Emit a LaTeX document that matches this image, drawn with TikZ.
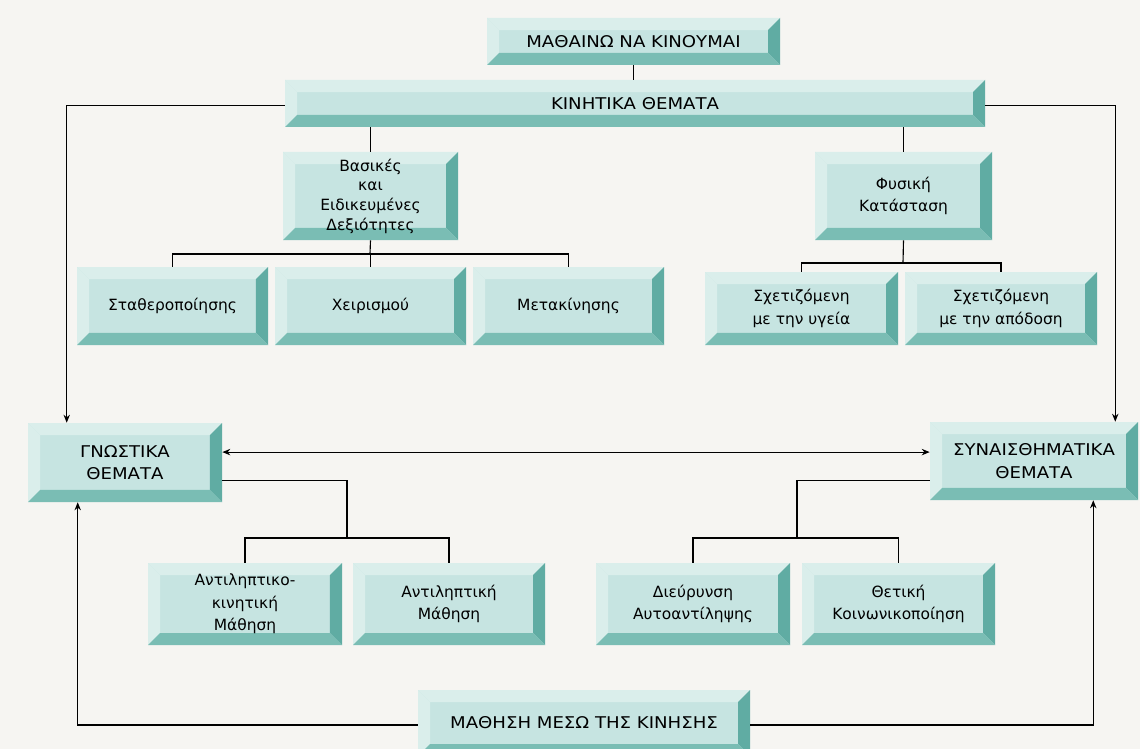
\documentclass[tikz,border=0pt]{standalone}
\usepackage{fontspec}
\setmainfont{DejaVu Sans}
\newfontfamily\capsfont{DejaVu Sans}[FakeStretch=1.12]
\usetikzlibrary{arrows.meta}
\usetikzlibrary{calc}
\definecolor{pagebg}{RGB}{246,245,242}
\definecolor{bevface}{RGB}{198,228,225}
\definecolor{bevlight}{RGB}{218,238,235}
\definecolor{bevright}{RGB}{96,172,163}
\definecolor{bevbottom}{RGB}{122,189,180}
\newcommand{\bevw}{3mm}
\newcommand{\bevelframe}{
    \coordinate (bnw) at (path picture bounding box.north west);
    \coordinate (bne) at (path picture bounding box.north east);
    \coordinate (bsw) at (path picture bounding box.south west);
    \coordinate (bse) at (path picture bounding box.south east);
    \fill[bevlight] (bnw) -- (bne) -- ([shift={(-\bevw,-\bevw)}]bne) -- ([shift={(\bevw,-\bevw)}]bnw) -- cycle;
    \fill[bevlight] (bnw) -- (bsw) -- ([shift={(\bevw,\bevw)}]bsw) -- ([shift={(\bevw,-\bevw)}]bnw) -- cycle;
    \fill[bevright] (bne) -- (bse) -- ([shift={(-\bevw,\bevw)}]bse) -- ([shift={(-\bevw,-\bevw)}]bne) -- cycle;
    \fill[bevbottom] (bsw) -- (bse) -- ([shift={(-\bevw,\bevw)}]bse) -- ([shift={(\bevw,\bevw)}]bsw) -- cycle;
}
% box from corner (#2,#3) to corner (#4,#5), named #6
\newcommand{\bevbox}[6]{\node[#1, minimum width={(#4-#2)*0.025cm}, minimum height={(#5-#3)*0.025cm}]
    (#6) at ({(#2+#4)/2}, {(#3+#5)/2})}
\newcommand{\drawarrow}{\draw[line width=0.8pt, -{Stealth[length=2mm, width=1.6mm]}]}
\tikzset{
    bevel/.style={rectangle, fill=bevface, inner sep=0pt, align=center,
        font=\fontsize{11}{16}\selectfont, path picture={\bevelframe}},
    tightbox/.style={bevel, font=\fontsize{11}{14}\selectfont},
    capsbox/.style={bevel, font=\capsfont\fontsize{11.5}{16}\selectfont},
    conn/.style={line width=0.8pt}
}

\begin{document}
\begin{tikzpicture}[x=0.025cm, y=-0.025cm]
    % Page
    \fill[pagebg] (0,0) rectangle (1140,749);
    \useasboundingbox (0,0) rectangle (1140,749);
    \clip (0,0) rectangle (1140,749);

    % Draw boxes
    \bevbox{capsbox}{487}{18}{780}{65}{learn} {ΜΑΘΑΙΝΩ ΝΑ ΚΙΝΟΥΜΑΙ};
    \bevbox{capsbox}{285}{80}{985}{127}{motor} {ΚΙΝΗΤΙΚΑ ΘΕΜΑΤΑ};

    \bevbox{tightbox}{283}{152}{458}{240}{skills} {Βασικές\\και\\Ειδικευμένες\\Δεξιότητες};
    \bevbox{bevel}{815}{152}{992}{240}{fitness} {Φυσική\\Κατάσταση};

    \bevbox{bevel}{77}{267}{268}{345}{stab} {Σταθεροποίησης};
    \bevbox{bevel}{275}{267}{466}{345}{manip} {Χειρισμού};
    \bevbox{bevel}{473}{267}{664}{345}{loco} {Μετακίνησης};
    \bevbox{bevel}{705}{272}{898}{345}{health} {Σχετιζόμενη\\με την υγεία};
    \bevbox{bevel}{905}{272}{1097}{345}{perf} {Σχετιζόμενη\\με την απόδοση};

    \bevbox{capsbox}{28}{423}{222}{502}{cogn} {ΓΝΩΣΤΙΚΑ\\ΘΕΜΑΤΑ};
    \bevbox{capsbox}{930}{422}{1138}{500}{affect} {ΣΥΝΑΙΣΘΗΜΑΤΙΚΑ\\ΘΕΜΑΤΑ};

    \bevbox{bevel}{148}{563}{342}{645}{permot} {Αντιληπτικο-\\κινητική\\Μάθηση};
    \bevbox{bevel}{353}{563}{545}{645}{percep} {Αντιληπτική\\Μάθηση};
    \bevbox{bevel}{596}{563}{790}{645}{selfc} {Διεύρυνση\\Αυτοαντίληψης};
    \bevbox{bevel}{802}{563}{995}{645}{social} {Θετική\\Κοινωνικοποίηση};

    \bevbox{capsbox}{418}{690}{750}{756}{move} {ΜΑΘΗΣΗ ΜΕΣΩ ΤΗΣ ΚΙΝΗΣΗΣ};

    % Draw tree lines
    \coordinate (skillbar) at (370,254);
    \coordinate (fitbar) at (903,263);
    \coordinate (cognbar) at (347,538);
    \coordinate (affbar) at (797,538);

    \draw[conn] (learn.south) -- (learn.south |- motor.north);
    \draw[conn] (motor.south -| skills.north) -- (skills.north);
    \draw[conn] (motor.south -| fitness.north) -- (fitness.north);

    \draw[conn] (skills.south) -- (skillbar);
    \draw[conn] (stab.north) |- (skillbar) -| (loco.north);
    \draw[conn] (manip.north) -- (manip.north |- skillbar);

    \draw[conn] (fitness.south) -- (fitbar);
    \draw[conn] (health.north) |- (fitbar) -| (perf.north);

    \draw[conn] ([yshift=-0.46cm]cogn.east) -| (cognbar);
    \draw[conn] (permot.north) |- (cognbar) -| (percep.north);

    \draw[conn] ([yshift=-0.48cm]affect.west) -| (affbar);
    \draw[conn] (selfc.north) |- (affbar) -| (social.north);

    % Draw arrows
    \drawarrow ([yshift=-0.05cm]motor.west) -| ([xshift=0.975cm]cogn.north west);
    \drawarrow ([yshift=-0.05cm]motor.east) -| ([xshift=-0.575cm]affect.north east);
    \drawarrow ([yshift=-0.05cm]move.west) -| ([xshift=1.25cm]cogn.south west);
    \drawarrow ([yshift=-0.05cm]move.east) -| ([xshift=-1.125cm]affect.south east);
    \draw[conn, {Stealth[length=2mm, width=1.6mm]}-{Stealth[length=2mm, width=1.6mm]}]
        ([yshift=0.26cm]cogn.east) -- ([yshift=0.26cm]cogn.east -| affect.west);
\end{tikzpicture}
\end{document}
